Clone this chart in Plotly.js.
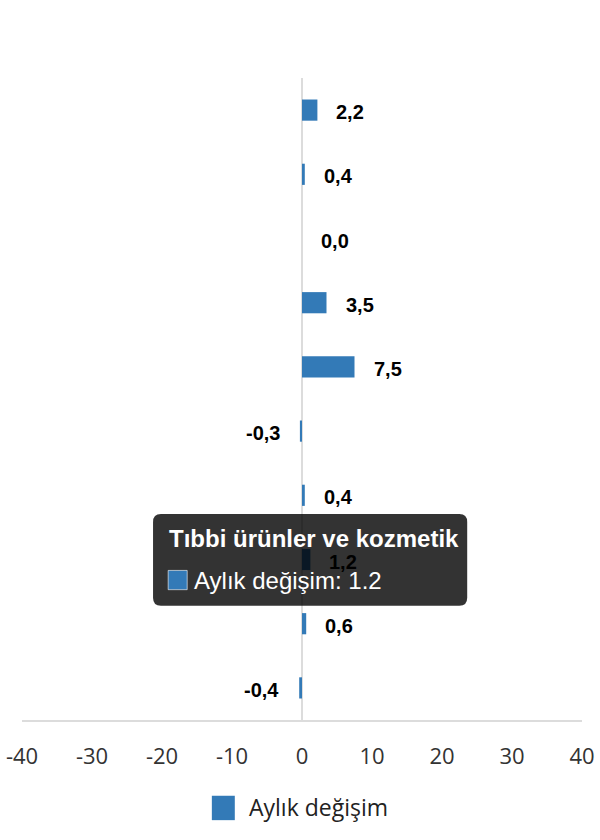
<!DOCTYPE html>
<html>
<head>
<meta charset="utf-8">
<script src="https://cdn.plot.ly/plotly-3.0.1.min.js"></script>
<style>
  html, body { margin: 0; padding: 0; background: #fff; }
  #chart { width: 600px; height: 840px; }
</style>
</head>
<body>
<div id="chart"></div>
<script>
// monthly change by group (top to bottom), y labels are hidden in the original
const categories = [
  'Toplam',
  'Gıda, içecek ve tütün',
  'Gıda dışı',
  'Otomotiv yakıtı',
  'Tekstil, giyim ve ayakkabı',
  'Bilgisayar, kitap ve telekomünikasyon',
  'Elektrikli eşya ve mobilya',
  'Tıbbi ürünler ve kozmetik',
  'İnternetten perakende ticaret',
  'Diğer'
];
const values = [2.2, 0.4, 0.0, 3.5, 7.5, -0.3, 0.4, 1.2, 0.6, -0.4];
const seriesName = 'Aylık değişim';
const xTicks = [-40, -30, -20, -10, 0, 10, 20, 30, 40];
const hovered = 7; // the point with the tooltip open

const blue = '#337ab7';
const arial = 'Liberation Sans, Arial, sans-serif';
const sans = 'Open Sans, Noto Sans, sans-serif';

// value labels next to bar ends, comma decimals
const labelNotes = values.map((v, i) => ({
  x: v, y: categories[i], xref: 'x', yref: 'y',
  text: v.toFixed(1).replace('.', ','),
  showarrow: false,
  xanchor: v < 0 ? 'right' : 'left',
  yshift: -2,
  xshift: v < 0 ? -18 : 17,
  font: { family: arial, size: 20, color: '#000', weight: 'bold' }
}));

// tooltip box (paper coords), rounded corners
const bx0 = 0.234, bx1 = 0.795, by0 = 0.178, by1 = 0.321;
const rx = 0.014, ry = 0.0125;
const boxPath =
  `M ${bx0 + rx} ${by1} L ${bx1 - rx} ${by1} Q ${bx1} ${by1} ${bx1} ${by1 - ry} ` +
  `L ${bx1} ${by0 + ry} Q ${bx1} ${by0} ${bx1 - rx} ${by0} ` +
  `L ${bx0 + rx} ${by0} Q ${bx0} ${by0} ${bx0} ${by0 + ry} ` +
  `L ${bx0} ${by1 - ry} Q ${bx0} ${by1} ${bx0 + rx} ${by1} Z`;

const tipNotes = [
  {
    xref: 'paper', yref: 'paper', x: 0.259, y: 0.282,
    xanchor: 'left', yanchor: 'middle', showarrow: false,
    text: '<b>' + categories[hovered] + '</b>',
    font: { family: arial, size: 24, color: '#fff' }
  },
  {
    xref: 'paper', yref: 'paper', x: 0.303, y: 0.218,
    xanchor: 'left', yanchor: 'middle', showarrow: false,
    text: seriesName + ': ' + values[hovered],
    font: { family: arial, size: 24, color: '#fff' }
  }
];

// legend drawn by hand so the swatch can be as large as in the original
const legendNote = {
  xref: 'paper', yref: 'paper', x: 0.401, y: -0.136,
  xanchor: 'left', yanchor: 'middle', showarrow: false,
  text: seriesName,
  font: { family: sans, size: 23, color: '#222' }
};

const data = [{
  type: 'bar',
  orientation: 'h',
  name: seriesName,
  x: values,
  y: categories,
  marker: { color: blue },
  hoverinfo: 'none'
}];

const layout = {
  width: 600,
  height: 840,
  margin: { l: 22, r: 18, t: 78, b: 120 },
  paper_bgcolor: '#fff',
  plot_bgcolor: '#fff',
  bargap: 0.67,
  showlegend: false,
  xaxis: {
    range: [-40, 40],
    tickvals: xTicks,
    ticktext: xTicks.map(String),
    showgrid: false,
    zeroline: true,
    zerolinecolor: '#dcdcdc',
    zerolinewidth: 2,
    showline: true,
    linecolor: '#dcdcdc',
    linewidth: 2,
    ticks: '',
    ticklabelstandoff: 16,
    tickfont: { family: sans, size: 22, color: '#333' },
    fixedrange: true
  },
  yaxis: {
    autorange: 'reversed',
    showticklabels: false,
    showgrid: false,
    zeroline: false,
    showline: false,
    ticks: '',
    fixedrange: true
  },
  shapes: [
    {
      type: 'path', xref: 'paper', yref: 'paper', path: boxPath,
      fillcolor: 'rgba(0,0,0,0.8)', line: { width: 0 }, layer: 'above'
    },
    {
      type: 'rect', xref: 'paper', yref: 'paper',
      x0: 0.261, x1: 0.295, y0: 0.203, y1: 0.233,
      fillcolor: blue, line: { color: 'rgba(255,255,255,0.6)', width: 1 }, layer: 'above'
    },
    {
      type: 'rect', xref: 'paper', yref: 'paper',
      x0: 0.339, x1: 0.380, y0: -0.156, y1: -0.118,
      fillcolor: blue, line: { width: 0 }, layer: 'above'
    }
  ],
  annotations: labelNotes.concat(tipNotes, [legendNote])
};

Plotly.newPlot('chart', data, layout, { displayModeBar: false, staticPlot: true });
</script>
</body>
</html>
